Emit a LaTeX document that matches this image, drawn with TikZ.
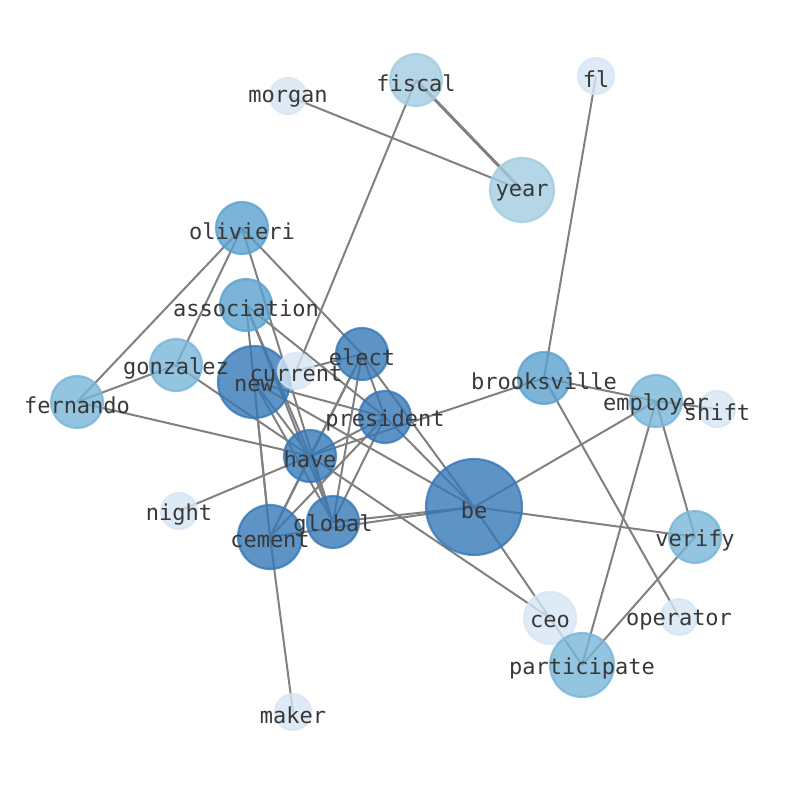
\documentclass[tikz,border=0pt]{standalone}
\usepackage{fontspec}
\setmonofont{DejaVu Sans Mono}
\usetikzlibrary{backgrounds}
\definecolor{lvfive}{RGB}{54,120,182}
\definecolor{lvfour}{RGB}{90,161,206}
\definecolor{lvthree}{RGB}{120,181,216}
\definecolor{lvtwo}{RGB}{161,204,224}
\definecolor{lvone}{RGB}{214,229,244}
\tikzset{
    word/.style={circle, inner sep=0pt, line width=2.2pt, fill opacity=0.8, draw opacity=0.8},
    wfive/.style={word, fill=lvfive, draw=lvfive},
    wfour/.style={word, fill=lvfour, draw=lvfour},
    wthree/.style={word, fill=lvthree, draw=lvthree},
    wtwo/.style={word, fill=lvtwo, draw=lvtwo},
    wone/.style={word, fill=lvone, draw=lvone},
    tag/.style={inner sep=0pt, yshift=-3pt, font=\ttfamily\fontsize{22}{24}\selectfont, text=black!78},
    link/.style={draw=black!50, line width=2pt},
}

\begin{document}
\begin{tikzpicture}[x=1pt, y=-1pt]
    \useasboundingbox (0,0) rectangle (794,790);

    % words
    \node[wtwo, minimum size=52] (fiscal) at (416,80) {};
    \node[wone, minimum size=36] (morgan) at (288,96) {};
    \node[wone, minimum size=36] (fl) at (596,76) {};
    \node[wtwo, minimum size=64] (year) at (522,190) {};
    \node[wfour, minimum size=52] (olivieri) at (242,228) {};
    \node[wfour, minimum size=52] (association) at (246,305) {};
    \node[wfive, minimum size=72] (new) at (254,382) {};
    \node[wone, minimum size=36] (current) at (296,371) {};
    \node[wfive, minimum size=52] (elect) at (362,354) {};
    \node[wthree, minimum size=52] (gonzalez) at (176,365) {};
    \node[wthree, minimum size=52] (fernando) at (77,402) {};
    \node[wfour, minimum size=52] (brooksville) at (544,378) {};
    \node[wthree, minimum size=52] (employer) at (656,401) {};
    \node[wone, minimum size=36] (shift) at (717,409) {};
    \node[wfive, minimum size=52] (president) at (385,417) {};
    \node[wfive, minimum size=52] (have) at (310,456) {};
    \node[wfive, minimum size=96] (be) at (474,507) {};
    \node[wone, minimum size=36] (night) at (179,511) {};
    \node[wfive, minimum size=52] (global) at (333,522) {};
    \node[wfive, minimum size=64] (cement) at (270,537) {};
    \node[wthree, minimum size=52] (verify) at (695,537) {};
    \node[wone, minimum size=52] (ceo) at (550,618) {};
    \node[wone, minimum size=36] (operator) at (679,617) {};
    \node[wthree, minimum size=64] (participate) at (582,665) {};
    \node[wone, minimum size=36] (maker) at (293,712) {};

    % links, under the words
    \begin{scope}[on background layer]
        \foreach \a/\b in {morgan/year, fiscal/current, fl/brooksville,
            olivieri/fernando, olivieri/gonzalez, olivieri/global, olivieri/elect,
            association/cement, association/have, association/global, association/president,
            gonzalez/fernando, gonzalez/have, fernando/have,
            new/cement, new/have, new/global, new/president, new/be,
            current/elect, elect/have, elect/global, elect/cement, elect/president, elect/be,
            president/have, president/global, president/cement, president/be,
            brooksville/have, have/night, have/global, have/cement, have/ceo,
            global/be, cement/be, cement/maker, be/participate, be/employer, be/verify,
            brooksville/employer, brooksville/operator, employer/shift,
            employer/verify, employer/participate, verify/participate}
            \draw[link] (\a.center) -- (\b.center);
        \draw[link, line width=3pt] (fiscal.center) -- (year.center);
    \end{scope}

    % labels on top
    \foreach \w in {fiscal, morgan, fl, year, olivieri, association, new, current,
        elect, gonzalez, fernando, brooksville, employer, shift, president, have,
        be, night, global, cement, verify, ceo, operator, participate, maker}
        \node[tag] (\w-tag) at (\w) {\w};
\end{tikzpicture}
\end{document}
